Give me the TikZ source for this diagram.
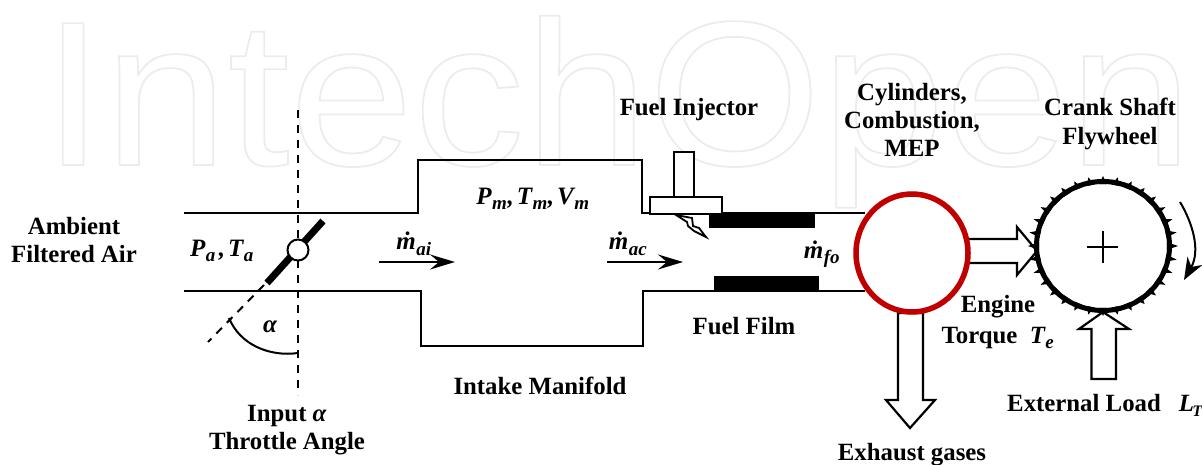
\documentclass[tikz,border=0pt]{standalone}
\usepackage{fontspec}
\setmainfont{Liberation Serif}
\newfontfamily\markfont[FakeStretch=1.08]{Liberation Sans}
\usetikzlibrary{arrows.meta,shapes.geometric}
\definecolor{cylred}{RGB}{192,0,0}
\tikzset{
  lbl/.style={font=\fontsize{24.8}{28}\selectfont\bfseries,align=center,inner sep=0pt},
  sym/.style={font=\fontsize{25}{28}\selectfont\bfseries\itshape,inner sep=0pt},
  duct/.style={line width=2pt},
  hollow/.style={draw,fill=white,line width=2.2pt,line join=miter},
  flowarr/.style={line width=2.4pt,-{Stealth[length=25pt,width=15pt,inset=9pt]}},
  dashline/.style={line width=2pt,dash pattern=on 8pt off 7pt}
}
\newcommand{\lowtxt}[1]{\kern0.5pt\raisebox{-0.22em}{\fontsize{19}{19}\selectfont #1}\kern0.5pt}
\begin{document}
\begin{tikzpicture}[x=1pt,y=-1pt]
  \useasboundingbox (0,0) rectangle (1202,465);
  \clip (0,0) rectangle (1202,465);
  % faint outline lettering behind everything
  \node[anchor=base west,inner sep=0pt,font=\fontsize{206}{206}\selectfont\markfont] (mark) at (42,165)
    {\special{pdf:literal 1 Tr 1.8 w 0.925 G}IntechOpen\special{pdf:literal 0 Tr}};
  % intake duct, upper and lower walls
  \draw[duct] (184,213) -- (418,213) -- (418,160) -- (642,160) -- (642,213) -- (865,213);
  \draw[duct] (184,291) -- (421,291) -- (421,346) -- (643,346) -- (643,291) -- (865,291);
  % fuel film
  \fill (709,213) rectangle (815,228);
  \fill (714,276) rectangle (819,291);
  % injector
  \draw[hollow] (674,152) rectangle (694,197);
  \draw[hollow] (650,197) rectangle (722,214);
  \draw[line width=1.8pt,fill=white] (676,215) -- (692,218) -- (693,226) -- (699,228) -- (706,237) -- (694,231)
    -- (688,226) -- (687,222) -- cycle;
  % throttle plate and its axes
  \draw[dashline] (298,110) -- (298,395);
  \draw[dashline] (264,285) -- (208,342);
  \draw[line width=7pt] (323,221) -- (267,283);
  \node[circle,draw,fill=white,line width=2pt,minimum size=21pt,inner sep=0pt] (pivot) at (298,250) {};
  \draw[line width=2pt] (229,318) .. controls (240,345) and (270,357) .. (298,353);
  % hollow arrows
  \draw[hollow] (966,239) -- (1017,239) -- (1017,227) -- (1037,251) -- (1017,275) -- (1017,263) -- (966,263);
  \draw[hollow] (1091.5,379) -- (1091.5,329) -- (1079,329) -- (1103,312) -- (1129,329) -- (1116,329) -- (1116,379) -- cycle;
  \draw[hollow] (898,313) -- (898,400) -- (886,400) -- (910,428) -- (935,400) -- (923,400) -- (923,313) -- cycle;
  % cylinder
  \node[ellipse,draw=cylred,line width=5.5pt,minimum width=112pt,minimum height=118pt,inner sep=0pt,fill=white] (cyl) at (912,253) {};
  % flywheel
  \foreach \a in {0,11.25,...,349}
    \fill[shift={(1103,246)}] (\a-3.5:64 and 62) -- (\a:75 and 70) -- (\a+3.5:64 and 62) -- cycle;
  \node[ellipse,draw,line width=5pt,minimum width=133pt,minimum height=129pt,inner sep=0pt] (wheel) at (1103,246) {};
  \draw[line width=1.8pt] (1087,247) -- (1118,247) (1103,231) -- (1103,263);
  \draw[line width=2pt,-{Stealth[length=22pt,width=17pt,inset=7pt]}] (1180,202) .. controls (1192,222) and (1201,250) .. (1184,280);
  % flow arrows
  \draw[flowarr] (379,262) -- (455,262);
  \draw[flowarr] (607,262) -- (683,262);
  % labels
  \node[lbl] (ambient) at (74,240) {Ambient\\Filtered Air};
  \node[sym] (pa) at (222,251) {P\lowtxt{a}\kern3pt,\kern3pt T\lowtxt{a}};
  \node[sym] (mai) at (414,244) {ṁ\lowtxt{ai}};
  \node[sym] (pm) at (533,199) {P\lowtxt{m},\kern3pt T\lowtxt{m},\kern3pt V\lowtxt{m}};
  \node[sym] (mac) at (628,244) {ṁ\lowtxt{ac}};
  \node[sym] (mfo) at (822,254) {ṁ\lowtxt{fo}};
  \node[sym] (alpha) at (270,327) {α};
  \node[lbl] (injector) at (689,110) {Fuel Injector};
  \node[lbl] (cylinders) at (912,120) {Cylinders,\\Combustion,\\MEP};
  \node[lbl] (crank) at (1110,124) {Crank Shaft\\[1pt]Flywheel};
  \node[lbl] (film) at (744,326) {Fuel Film};
  \node[lbl] (manifold) at (540,386) {Intake Manifold};
  \node[lbl] (input) at (287,430) {Input \textit{α}\\Throttle Angle};
  \node[lbl] (exhaust) at (912,455) {Exhaust gases};
  \node[lbl] (torque) at (998,322) {Engine\\[3pt]Torque\ \ \textit{T\lowtxt{e}}};
  \node[lbl,anchor=west] (load) at (1007,405) {External Load\kern18pt\textit{L\kern-1.5pt\raisebox{-0.2em}{\fontsize{16}{16}\selectfont T}}};
\end{tikzpicture}
\end{document}
